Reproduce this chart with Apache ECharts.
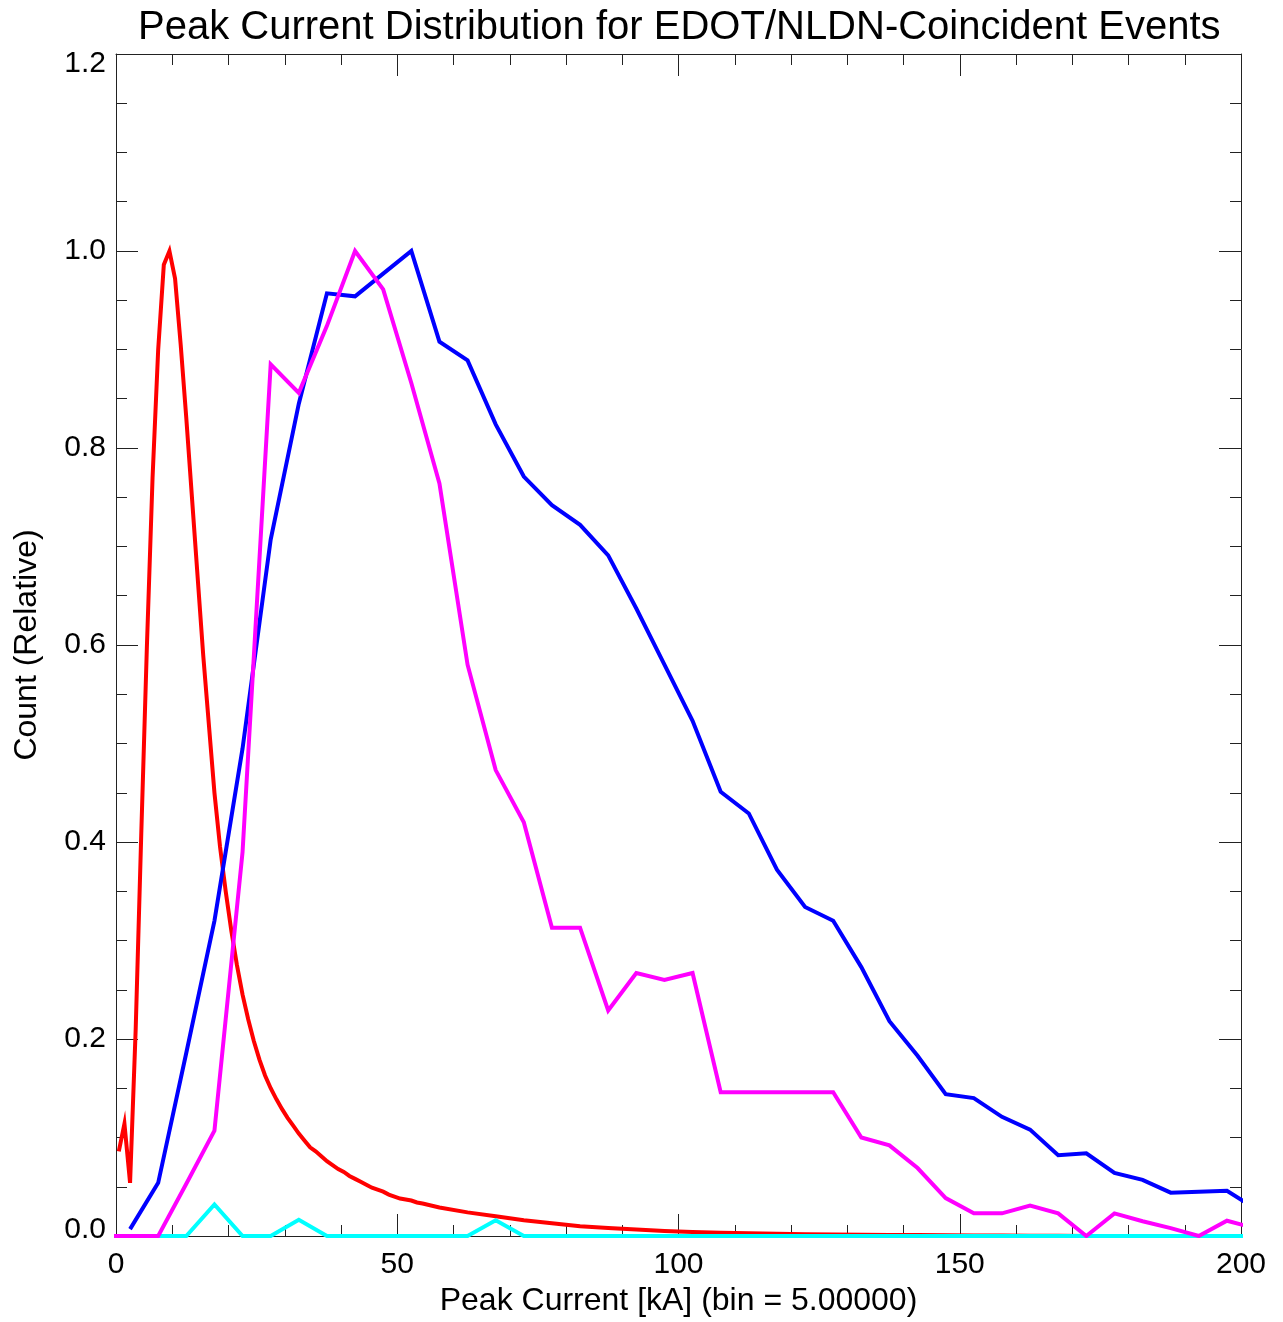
<!DOCTYPE html>
<html>
<head>
<meta charset="utf-8">
<script src="https://cdn.jsdelivr.net/npm/echarts@6/dist/echarts.min.js"></script>
<style>
html,body{margin:0;padding:0;background:#fff;}
#chart{width:1283px;height:1322px;}
</style>
</head>
<body>
<div id="chart"></div>
<script>
// ---- data ----
var titleText = 'Peak Current Distribution for EDOT/NLDN-Coincident Events';
var xAxisName = 'Peak Current [kA] (bin = 5.00000)';
var yAxisName = 'Count (Relative)';
var xTicks = [0, 50, 100, 150, 200];
var yTicks = [0.0, 0.2, 0.4, 0.6, 0.8, 1.0, 1.2];

// red: fine (1 kA) bins near the peak, then the tail
var redX = [0.5,1.5,2.5,3.5,4.5,5.5,6.5,7.5,8.5,9.5,10.5,11.5,12.5,13.5,14.5,15.5,16.5,17.5,18.5,19.5,
  20.5,21.5,22.5,23.5,24.5,25.5,26.5,27.5,28.5,29.5,30.5,31.5,32.5,33.5,34.5,35.5,36.5,37.5,38.5,39.5,
  40.5,41.5,42.5,43.5,44.5,45.5,46.5,47.5,48.5,49.5,50.5,51.5,52.5,53.5,54.5,
  57.5,62.5,67.5,72.5,77.5,82.5,87.5,92.5,97.5,102.5,107.5,112.5,117.5,122.5,127.5,132.5,137.5,142.5,
  147.5,152.5,157.5,162.5,167.5,172.5,177.5,182.5,187.5,192.5,197.5];
var redY = [0.086,0.114,0.054,0.21,0.41,0.60,0.77,0.90,0.986,1.000,0.972,0.905,0.83,0.75,0.67,0.59,0.52,0.45,0.395,0.35,
  0.31,0.275,0.245,0.22,0.198,0.179,0.163,0.150,0.139,0.129,0.120,0.112,0.104,0.097,0.090,0.086,0.081,0.076,0.072,0.068,
  0.065,0.061,0.058,0.055,0.052,0.049,0.047,0.045,0.042,0.040,0.038,0.037,0.036,0.034,0.033,
  0.029,0.024,0.020,0.016,0.013,0.010,0.008,0.0065,0.005,0.004,0.0033,0.0027,0.0022,0.0018,0.0015,0.0013,0.0011,0.0009,
  0.0007,0.0005,0.0004,0.0003,0.0002,0.0001,0.0001,0.0001,0.0001,0.0001,0.0001];

var blueX = [2.5,7.5,12.5,17.5,22.5,27.5,32.5,37.5,42.5,47.5,52.5,57.5,62.5,67.5,72.5,77.5,82.5,87.5,92.5,97.5,
  102.5,107.5,112.5,117.5,122.5,127.5,132.5,137.5,142.5,147.5,152.5,157.5,162.5,167.5,172.5,177.5,182.5,187.5,192.5,197.5,202.5];
var blueY = [0.007,0.054,0.186,0.320,0.495,0.707,0.845,0.957,0.954,0.977,1.000,0.908,0.889,0.824,0.771,0.742,0.722,0.691,0.637,0.580,
  0.523,0.451,0.429,0.372,0.334,0.320,0.273,0.218,0.183,0.144,0.140,0.121,0.108,0.082,0.084,0.064,0.057,0.044,0.045,0.046,0.028];

var cyanX = [2.5,7.5,12.5,17.5,22.5,27.5,32.5,37.5,42.5,47.5,52.5,57.5,62.5,67.5,72.5,77.5,82.5,87.5,92.5,97.5,
  102.5,107.5,112.5,117.5,122.5,127.5,132.5,137.5,142.5,147.5,152.5,157.5,162.5,167.5,172.5,177.5,182.5,187.5,192.5,197.5,202.5];
var cyanY = [0,0,0,0.032,0,0,0.0165,0,0,0,0,0,0,0.016,0,0,0,0,0,0,
  0,0,0,0,0,0,0,0,0,0,0,0,0,0,0,0,0,0,0,0,0];

var magentaX = [-2.5,2.5,7.5,12.5,17.5,22.5,27.5,32.5,37.5,42.5,47.5,52.5,57.5,62.5,67.5,72.5,77.5,82.5,87.5,92.5,97.5,
  102.5,107.5,112.5,117.5,122.5,127.5,132.5,137.5,142.5,147.5,152.5,157.5,162.5,167.5,172.5,177.5,182.5,187.5,192.5,197.5,202.5];
var magentaY = [0,0,0,0.053,0.107,0.39,0.885,0.856,0.924,1.000,0.961,0.866,0.764,0.58,0.473,0.42,0.313,0.313,0.229,0.267,0.260,
  0.267,0.146,0.146,0.146,0.146,0.146,0.100,0.092,0.069,0.0385,0.023,0.023,0.031,0.023,0,0.023,0.015,0.008,0,0.0155,0.008];

// ---- chart ----
function pairs(xs, ys){ return xs.map(function(x,i){ return [x, ys[i]]; }); }
var FONT = '"Liberation Sans", Arial, Helvetica, sans-serif';
var axisColor = '#222';
var labelBase = {fontFamily:FONT, fontSize:30, color:'#000'};

var chart = echarts.init(document.getElementById('chart'), null, {renderer:'canvas'});

function xAx(pos, showLabel){
  return {
    type:'value', position:pos, min:xTicks[0], max:xTicks[xTicks.length-1],
    interval:xTicks[1]-xTicks[0],
    name: showLabel ? xAxisName : '', nameLocation:'middle', nameGap:49,
    nameTextStyle:{fontFamily:FONT, fontSize:32, color:'#000'},
    axisLine:{show:true, onZero:false, lineStyle:{color:axisColor, width:1}},
    axisTick:{show:true, inside:true, length:22, lineStyle:{color:axisColor, width:1}},
    minorTick:{show:true, splitNumber:5, length:11, lineStyle:{color:axisColor, width:1}},
    axisLabel:{show:showLabel, margin:14, fontFamily:FONT, fontSize:30, color:'#000'},
    splitLine:{show:false}, minorSplitLine:{show:false}
  };
}
function yAx(pos, showLabel){
  var yMin = yTicks[0], yMax = yTicks[yTicks.length-1];
  return {
    type:'value', position:pos, min:yMin, max:yMax,
    interval:0.2,
    name: showLabel ? yAxisName : '', nameLocation:'middle', nameGap:73,
    nameTextStyle:{fontFamily:FONT, fontSize:32, color:'#000'},
    axisLine:{show:true, onZero:false, lineStyle:{color:axisColor, width:1}},
    axisTick:{show:true, inside:true, length:22, lineStyle:{color:axisColor, width:1}},
    minorTick:{show:true, splitNumber:4, length:11, lineStyle:{color:axisColor, width:1}},
    axisLabel:{show:showLabel, margin:10, fontFamily:FONT, fontSize:30, color:'#000',
      formatter:function(v){
        var s = v.toFixed(1);
        if (Math.abs(v - yMin) < 1e-9) return '{lo|' + s + '}';
        if (Math.abs(v - yMax) < 1e-9) return '{hi|' + s + '}';
        return s;
      },
      rich:{
        lo: Object.assign({padding:[0,0,12,0]}, labelBase),
        hi: Object.assign({padding:[20,0,0,0]}, labelBase)
      }},
    splitLine:{show:false}, minorSplitLine:{show:false}
  };
}
function lineSeries(name, xs, ys, color){
  return {
    name:name, type:'line', data:pairs(xs, ys), xAxisIndex:0, yAxisIndex:0,
    showSymbol:false, symbol:'none', clip:true, smooth:false,
    lineStyle:{color:color, width:4, join:'miter'}, itemStyle:{color:color},
    emphasis:{disabled:true}
  };
}

chart.setOption({
  animation:false,
  backgroundColor:'#fff',
  title:{text:titleText, left:133, top:3,
    textStyle:{fontFamily:FONT, fontSize:40, fontWeight:'normal', color:'#000'}},
  grid:{left:116, right:42, top:54, bottom:84, containLabel:false},
  xAxis:[xAx('bottom', true), xAx('top', false)],
  yAxis:[yAx('left', true), yAx('right', false)],
  series:[
    lineSeries('red', redX, redY, '#ff0000'),
    lineSeries('blue', blueX, blueY, '#0000ff'),
    lineSeries('cyan', cyanX, cyanY, '#00ffff'),
    lineSeries('magenta', magentaX, magentaY, '#ff00ff')
  ]
});
</script>
</body>
</html>
